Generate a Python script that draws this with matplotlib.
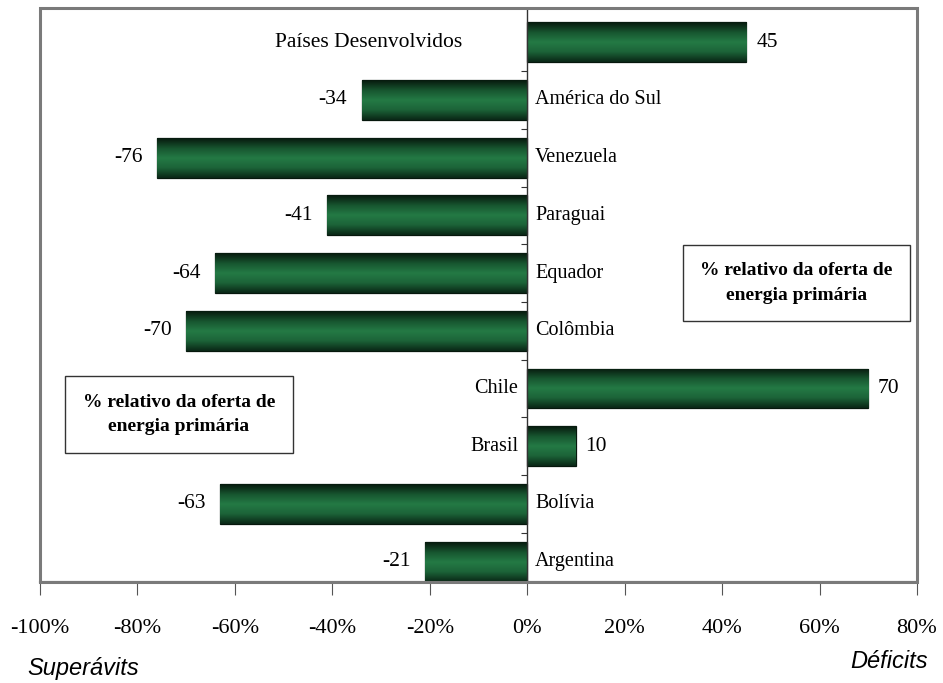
import numpy as np
import matplotlib.pyplot as plt
from matplotlib.colors import LinearSegmentedColormap
from matplotlib.patches import Rectangle
from matplotlib.ticker import FixedLocator, FuncFormatter

paises = ["Países Desenvolvidos", "América do Sul", "Venezuela", "Paraguai", "Equador",
          "Colômbia", "Chile", "Brasil", "Bolívia", "Argentina"]
saldo = [45, -34, -76, -41, -64, -70, 70, 10, -63, -21]
xticks = [-100, -80, -60, -40, -20, 0, 20, 40, 60, 80]
nota = "% relativo da oferta de\nenergia primária"

serif = ["Liberation Serif", "DejaVu Serif"]
narrow = ["Liberation Sans Narrow", "Liberation Sans", "DejaVu Sans"]

fig = plt.figure(figsize=(9.43, 6.83), dpi=100)
ax = fig.add_axes([0.0424, 0.148, 0.930, 0.840])

y = np.arange(len(paises))
bars = ax.barh(y, saldo, height=0.69, color="#1d6a3c", edgecolor="#06170c",
               linewidth=0.9, zorder=3)

# sombreamento cilíndrico das barras
verde = LinearSegmentedColormap.from_list(
    "verde", ["#071a0e", "#17552f", "#247a45", "#1c6338", "#0a2716"])
grad = np.linspace(0, 1, 64).reshape(-1, 1)
for b in bars:
    x0, y0 = b.get_x(), b.get_y()
    im = ax.imshow(grad, extent=[x0, x0 + b.get_width(), y0 + b.get_height(), y0],
                   aspect="auto", cmap=verde, zorder=3, interpolation="bicubic")
    im.set_clip_path(b)

# rótulos de países e valores
for i, (nome, v) in enumerate(zip(paises, saldo)):
    if v < 0:
        ax.text(1.6, i, nome, ha="left", va="center", fontsize=14.5, family=serif, zorder=5)
        ax.text(v - 3.0, i, f"{v}", ha="right", va="center", fontsize=15.5, family=serif)
    else:
        if nome == "Países Desenvolvidos":
            ax.text(-13.3, i, nome, ha="right", va="center", fontsize=15.5,
                    family=serif, zorder=5)
        else:
            ax.text(-1.8, i, nome, ha="right", va="center", fontsize=14.5,
                    family=serif, zorder=5)
        ax.text(v + 2.0, i, f"{v}", ha="left", va="center", fontsize=15.5, family=serif)

ax.set_xlim(-100, 80)
ax.set_ylim(9.35, -0.59)

# eixo vertical no zero, com marcas entre as categorias
ax.spines["left"].set_position(("data", 0))
ax.spines["left"].set_color("#333333")
ax.spines["left"].set_linewidth(1.0)
ax.spines["left"].set_zorder(4)
ax.spines["top"].set_visible(False)
ax.spines["right"].set_visible(False)
ax.spines["bottom"].set_color("#444444")
ax.spines["bottom"].set_linewidth(1.5)
ax.yaxis.set_major_locator(FixedLocator(y[:-1] + 0.5))
ax.tick_params(axis="y", length=4, direction="out", labelleft=False, color="#333333")

ax.set_xticks(xticks)
ax.xaxis.set_major_formatter(FuncFormatter(lambda v, p: f"{v:.0f}%"))
ax.tick_params(axis="x", length=9, direction="out", pad=18, labelsize=16, color="#555555")
for lbl in ax.get_xticklabels():
    lbl.set_family(serif)

# moldura da área do gráfico
ax.add_patch(Rectangle((0, 0), 1, 1, transform=ax.transAxes, fill=False,
                       edgecolor="#7a7a7a", linewidth=2.2, zorder=6, clip_on=False))

caixa = dict(boxstyle="square,pad=0.9", facecolor="white", edgecolor="#333333", linewidth=1.0)
ax.text(55.3, 4.17, nota, ha="center", va="center", multialignment="center",
        fontsize=14, fontweight="bold", family=serif, bbox=caixa, zorder=7,
        linespacing=1.55)
ax.text(-71.5, 6.45, nota, ha="center", va="center", multialignment="center",
        fontsize=14, fontweight="bold", family=serif, bbox=caixa, zorder=7,
        linespacing=1.55)

fig.text(0.029, 0.012, "Superávits", fontsize=17, style="italic", family=narrow)
fig.text(0.984, 0.022, "Déficits", fontsize=17, style="italic", family=narrow, ha="right")

fig.savefig("out.png", dpi=100)
